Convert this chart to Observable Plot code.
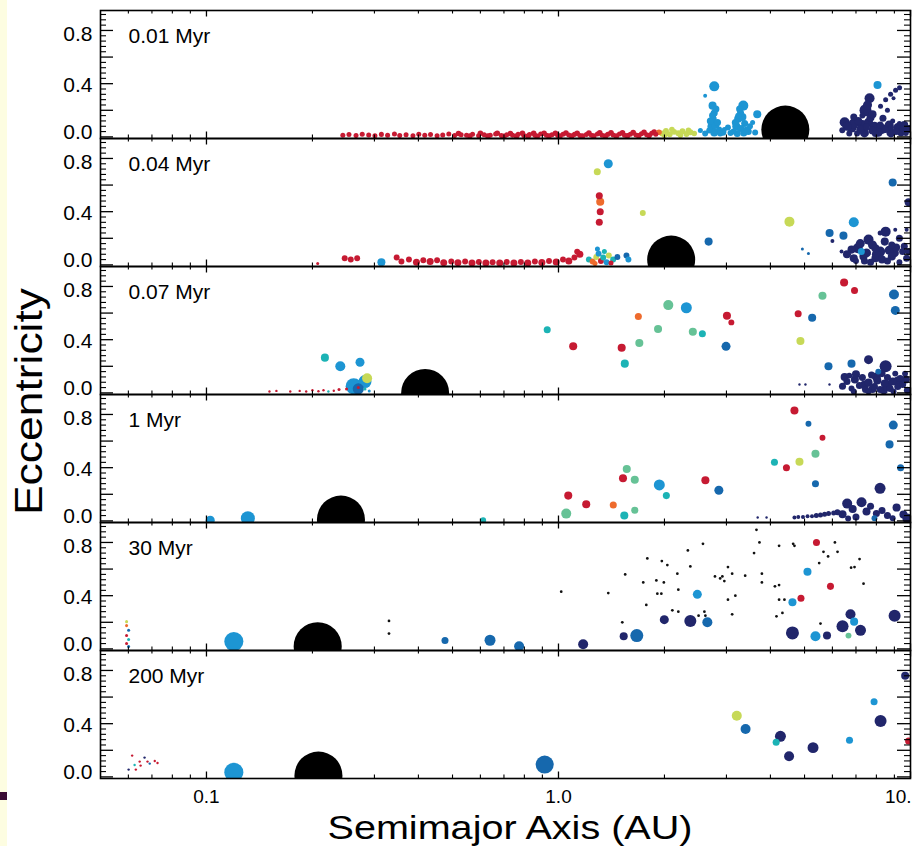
<!DOCTYPE html>
<html>
<head>
<meta charset="utf-8">
<script src="https://cdn.jsdelivr.net/npm/d3@7"></script>
<script src="https://cdn.jsdelivr.net/npm/@observablehq/plot@0.6"></script>
<style>
  html, body { margin: 0; padding: 0; background: #fff; }
  #page { position: relative; width: 918px; height: 846px; overflow: hidden; background: #fff;
          font-family: "Liberation Sans", Arial, Helvetica, sans-serif; }
  #page > #chart > svg { position: absolute; left: 0; top: 0; }
  #strip { position: absolute; left: 0; top: 0; width: 7px; height: 846px; background: #fdfde1; }
  #bar { position: absolute; left: 0; top: 792px; width: 7px; height: 8px; background: #3a0c33; }
  #titles { position: absolute; left: 0; top: 0; pointer-events: none; }
</style>
</head>
<body>
<div id="page">
  <div id="chart"></div>
  <div id="strip"></div>
  <div id="bar"></div>
  <svg id="titles" width="918" height="846" font-family="Liberation Sans, Arial, Helvetica, sans-serif">
    <text x="510" y="838.5" text-anchor="middle" font-size="34" textLength="365" lengthAdjust="spacingAndGlyphs">Semimajor Axis (AU)</text>
    <text transform="translate(42,401.5) rotate(-90)" text-anchor="middle" font-size="38" textLength="227" lengthAdjust="spacingAndGlyphs">Eccentricity</text>
  </svg>
</div>
<script>
// Snapshot times, top to bottom
const times = ["0.01 Myr", "0.04 Myr", "0.07 Myr", "1 Myr", "30 Myr", "200 Myr"];

// Bodies in each snapshot: [semimajor axis (AU), eccentricity, mass (Earth masses), log10 water mass fraction]
const snap001 = [
  [0.244,0.012,0.36,-5],[0.254,0.018,0.36,-5],[0.266,0.010,0.36,-5],[0.277,0.020,0.36,-5],[0.289,0.014,0.36,-5],
  [0.301,0.008,0.36,-5],[0.314,0.019,0.36,-5],[0.327,0.012,0.36,-5],[0.342,0.022,0.36,-5],[0.354,0.010,0.36,-5],
  [0.369,0.016,0.36,-5],[0.386,0.009,0.36,-5],[0.401,0.020,0.36,-5],[0.417,0.012,0.36,-5],[0.433,0.018,0.36,-5],
  [0.452,0.008,0.36,-5],[0.469,0.015,0.36,-5],[0.488,0.022,0.36,-5],[0.507,0.010,0.36,-5],[0.529,0.017,0.36,-5],
  [0.548,0.012,0.36,-5],[0.570,0.020,0.36,-5],[0.593,0.009,0.36,-5],[0.615,0.016,0.36,-5],[0.640,0.013,0.36,-5],
  [0.663,0.021,0.36,-5],[0.688,0.010,0.36,-5],[0.713,0.017,0.36,-5],[0.741,0.012,0.36,-5],[0.768,0.020,0.36,-5],
  [0.797,0.011,0.36,-5],[0.827,0.018,0.36,-5],[0.857,0.013,0.36,-5],[0.890,0.021,0.36,-5],[0.924,0.012,0.36,-5],
  [0.958,0.017,0.36,-5],[0.995,0.011,0.36,-5],[1.03,0.020,0.36,-5],[1.07,0.014,0.36,-5],[1.11,0.019,0.36,-5],
  [1.15,0.011,0.36,-5],[1.20,0.018,0.36,-5],[1.24,0.013,0.36,-5],[1.29,0.021,0.36,-5],[1.33,0.012,0.36,-5],
  [1.38,0.019,0.36,-5],[1.43,0.014,0.36,-5],[1.49,0.022,0.36,-5],[1.54,0.012,0.36,-5],[1.60,0.020,0.36,-5],
  [1.66,0.015,0.36,-5],[1.72,0.024,0.36,-5],[1.78,0.016,0.36,-5],[1.84,0.028,0.36,-5],[1.89,0.020,0.36,-5],
  [0.52,0.026,0.5,-5],[0.56,0.006,0.5,-5],[0.60,0.028,0.5,-5],[0.63,0.007,0.5,-5],[0.67,0.027,0.5,-5],
  [0.70,0.005,0.5,-5],[0.73,0.026,0.5,-5],[0.76,0.006,0.5,-5],[0.79,0.028,0.5,-5],[0.82,0.007,0.5,-5],
  [0.85,0.027,0.5,-5],[0.87,0.005,0.5,-5],[0.91,0.028,0.5,-5],[0.94,0.006,0.5,-5],[0.98,0.027,0.5,-5],
  [1.01,0.006,0.5,-5],[1.05,0.029,0.5,-5],[1.09,0.006,0.5,-5],[1.13,0.028,0.5,-5],[1.17,0.007,0.5,-5],
  [1.22,0.029,0.5,-5],[1.26,0.006,0.5,-5],[1.31,0.030,0.5,-5],[1.36,0.007,0.5,-5],[1.41,0.030,0.5,-5],
  [1.46,0.007,0.5,-5],[1.52,0.031,0.5,-5],[1.57,0.008,0.5,-5],[1.63,0.032,0.5,-5],[1.69,0.008,0.5,-5],
  [1.75,0.034,0.5,-5],[1.81,0.010,0.5,-5],[1.87,0.036,0.5,-5],
  [1.93,0.035,0.5,-4.5],
  [1.97,0.025,0.6,-4],[2.02,0.045,0.6,-4],[2.07,0.020,0.6,-4],[2.13,0.038,0.6,-4],[2.19,0.028,0.6,-4],
  [2.25,0.042,0.6,-4],[2.31,0.022,0.6,-4],[2.37,0.035,0.6,-4],[2.00,0.012,0.5,-4],[2.10,0.055,0.5,-4],
  [2.22,0.012,0.5,-4],[2.34,0.05,0.5,-4],[2.43,0.025,0.5,-4],
  [2.77,0.38,2.9,-2.5],[2.61,0.31,0.18,-2.5],
  [2.74,0.235,1.5,-2.5],[2.77,0.18,1.0,-2.5],[2.75,0.137,1.0,-2.5],[2.83,0.108,1.0,-2.5],[2.72,0.078,1.5,-2.5],
  [2.86,0.055,0.6,-2.5],[2.77,0.033,1.5,-2.5],[2.68,0.048,0.6,-2.5],[2.88,0.025,0.6,-2.5],[2.53,0.048,0.36,-2.5],
  [2.61,0.025,0.6,-2.5],[2.96,0.055,0.36,-2.5],[3.03,0.07,0.6,-2.5],
  [2.70,0.12,1.0,-2.5],[2.79,0.09,1.5,-2.5],[2.74,0.16,1.0,-2.5],[2.80,0.21,1.0,-2.5],[2.93,0.035,1.0,-2.5],
  [3.35,0.235,2.9,-2.5],[3.29,0.18,1.0,-2.5],[3.24,0.137,1.5,-2.5],[3.18,0.108,1.0,-2.5],[3.38,0.10,1.0,-2.5],
  [3.30,0.063,1.0,-2.5],[3.42,0.055,0.6,-2.5],[3.14,0.04,0.6,-2.5],[3.22,0.025,1.0,-2.5],[3.24,0.16,0.6,-2.5],
  [3.27,0.21,1.0,-2.5],[3.33,0.15,1.5,-2.5],[3.20,0.08,1.5,-2.5],[3.36,0.03,1.0,-2.5],[3.08,0.03,0.6,-2.5],
  [3.50,0.08,0.6,-2.5],[3.46,0.04,1.0,-2.5],
  [3.67,0.17,1.5,-2.5],[3.56,0.108,0.36,-2.5],[3.62,0.033,0.6,-2.5],
  [8.06,0.39,1.5,-2.5],[7.65,0.29,2.9,-1.5],[7.45,0.20,5,-1.5],[7.70,0.145,1.5,-1.5],[8.22,0.23,0.36,-1.5],
  [8.50,0.28,0.36,-1.5],[8.78,0.32,0.36,-1.5],[9.07,0.35,0.36,-1.5],[9.31,0.37,0.36,-1.5],[8.95,0.29,0.18,-1.5],
  [8.60,0.20,0.36,-1.5],[6.50,0.11,2.9,-1.5],[6.80,0.07,2.9,-1.5],[7.10,0.12,1.5,-1.5],[7.20,0.055,1.5,-1.5],
  [7.50,0.075,1.0,-1.5],[7.80,0.048,1.5,-1.5],[8.20,0.09,1.0,-1.5],[8.50,0.055,1.0,-1.5],[8.80,0.07,0.6,-1.5],
  [9.10,0.04,1.0,-1.5],[9.50,0.06,0.6,-1.5],[7.95,0.025,1.0,-1.5],[7.05,0.025,0.6,-1.5],[6.70,0.025,0.6,-1.5],
  [6.40,0.05,0.6,-1.5],[9.70,0.03,0.6,-1.5],[8.90,0.12,0.36,-1.5],[9.30,0.10,0.36,-1.5],[7.30,0.16,0.6,-1.5],
  [6.60,0.08,2.1,-1.5],[6.90,0.10,2.9,-1.5],[7.30,0.09,2.9,-1.5],[7.60,0.11,2.1,-1.5],[7.90,0.08,2.1,-1.5],
  [8.30,0.06,2.9,-1.5],[8.70,0.09,2.1,-1.5],[9.20,0.07,2.1,-1.5],[9.60,0.09,1.5,-1.5],[7.40,0.03,2.1,-1.5],
  [8.10,0.035,2.1,-1.5],[8.80,0.03,2.1,-1.5],[9.40,0.035,1.5,-1.5],[7.55,0.24,2.1,-1.5],[7.80,0.17,1.5,-1.5],
  [8.35,0.14,1.0,-1.5],[6.90,0.15,1.0,-1.5],[9.90,0.06,1.5,-1.5]
];

const snap004 = [
  [0.207,0.01,0.08,-5],[0.247,0.05,0.6,-5],[0.257,0.04,0.6,-5],[0.268,0.05,0.6,-5],[0.314,0.02,1.5,-2.5],
  [0.347,0.055,0.6,-5],[0.358,0.025,0.6,-5],[0.376,0.04,0.6,-5],[0.395,0.02,1.0,-5],[0.413,0.035,0.6,-5],
  [0.432,0.025,1.0,-5],[0.452,0.035,0.6,-5],[0.472,0.017,1.0,-5],[0.496,0.025,0.6,-5],[0.518,0.017,1.0,-5],
  [0.543,0.025,0.6,-5],[0.568,0.015,1.0,-5],[0.594,0.022,0.6,-5],[0.622,0.015,1.0,-5],[0.650,0.02,0.6,-5],
  [0.681,0.015,1.0,-5],[0.713,0.022,0.6,-5],[0.747,0.014,1.0,-5],[0.782,0.022,0.6,-5],[0.818,0.015,1.0,-5],
  [0.857,0.025,0.6,-5],[0.897,0.018,1.0,-5],[0.940,0.03,0.6,-5],[0.985,0.022,1.0,-5],[1.03,0.04,0.6,-5],
  [1.07,0.03,1.0,-5],[1.11,0.055,0.6,-5],[1.15,0.08,1.0,-5],[1.13,0.10,0.6,-5],
  [1.306,0.52,1.0,-5],[1.314,0.475,1.5,-4.5],[1.314,0.40,1.0,-5],[1.306,0.32,1.0,-5],[1.289,0.70,1.0,-4],
  [1.385,0.76,2.1,-2.5],[1.736,0.39,0.6,-4],
  [1.22,0.04,0.6,-3],[1.25,0.025,0.6,-4.5],[1.28,0.06,0.6,-4],[1.30,0.085,0.6,-2.5],[1.32,0.03,0.6,-5],
  [1.34,0.055,0.6,-3],[1.37,0.02,0.6,-2.5],[1.39,0.07,0.6,-4],[1.27,0.01,0.36,-4.5],[1.43,0.04,0.6,-3],
  [1.47,0.06,0.6,-2],[1.56,0.07,0.6,-2],[1.58,0.04,0.6,-2.5],[1.35,0.10,0.36,-3],[1.29,0.12,0.36,-2.5],
  [1.41,0.015,0.36,-5],
  [2.67,0.175,1.5,-2],[4.53,0.325,2.9,-4],[6.90,0.32,2.9,-2.5],[5.89,0.24,1.5,-2],[6.45,0.22,1.5,-2],
  [8.90,0.62,1.5,-2],[4.93,0.12,0.08,-2],[5.13,0.085,0.08,-2],[9.88,0.47,1.5,-1.5],
  [8.50,0.25,2.9,-1.5],[7.60,0.19,2.9,-1.5],[7.08,0.125,2.9,-1.5],[6.80,0.115,1.5,-1.5],[7.95,0.125,1.5,-1.5],
  [8.45,0.175,1.5,-1.5],[8.85,0.15,1.0,-1.5],[9.30,0.20,1.0,-1.5],[6.60,0.08,1.5,-1.5],[7.35,0.063,1.5,-1.5],
  [7.95,0.05,1.5,-1.5],[8.85,0.063,1.5,-1.5],[9.50,0.10,1.0,-1.5],[9.75,0.05,1.0,-1.5],[7.25,0.10,1.0,-2.5],
  [8.20,0.24,0.36,-1.5],[9.05,0.265,0.18,-1.5],[9.75,0.265,0.18,-1.5],[6.37,0.10,0.18,-1.5],[6.00,0.18,0.18,-1.5],
  [7.70,0.02,1.0,-1.5],[8.60,0.03,1.0,-1.5],[9.30,0.02,0.6,-1.5],[7.00,0.03,0.6,-1.5],
  [7.20,0.16,2.1,-1.5],[7.80,0.15,2.1,-1.5],[8.20,0.10,2.9,-1.5],[8.70,0.11,2.1,-1.5],[9.10,0.13,1.5,-1.5],
  [7.50,0.09,2.1,-1.5],[8.00,0.08,2.1,-1.5],[9.00,0.09,2.1,-1.5],[9.60,0.14,1.0,-1.5],[6.90,0.05,1.5,-1.5],
  [8.30,0.04,1.5,-1.5],[9.90,0.10,1.0,-1.5],[7.40,0.03,1.0,-1.5]
];

const snap007 = [
  [0.151,0.01,0.04,-5],[0.158,0.015,0.04,-5],[0.173,0.01,0.04,-5],[0.184,0.015,0.04,-5],[0.192,0.01,0.04,-5],
  [0.200,0.02,0.04,-5],[0.208,0.012,0.04,-5],[0.215,0.02,0.04,-5],[0.222,0.01,0.04,-3],[0.230,0.016,0.04,-5],
  [0.238,0.025,0.08,-5],[0.250,0.03,0.08,-5],[0.270,0.04,0.08,-5],[0.290,0.015,0.08,-2.5],[0.282,0.03,0.08,-3],
  [0.217,0.265,1.5,-3],[0.240,0.20,2.9,-2.5],[0.273,0.23,2.1,-2.5],
  [0.262,0.05,12,-2.5],[0.282,0.085,6.3,-2.5],[0.270,0.03,4,-2],[0.286,0.11,2.9,-4],
  [0.929,0.475,1.0,-3],[1.101,0.35,1.5,-5],[1.512,0.34,1.5,-5],[1.543,0.22,1.5,-3],[1.697,0.375,1.5,-3.5],
  [1.686,0.575,1.0,-4.5],[1.918,0.48,1.5,-3.5],[2.051,0.66,2.9,-3.5],[2.308,0.64,3.8,-2.5],[2.408,0.46,1.5,-3.5],
  [2.563,0.445,1.0,-3],[3.01,0.58,1.5,-5],[3.098,0.53,0.6,-5],[2.992,0.35,2.1,-2],[4.796,0.595,1.0,-5],
  [5.256,0.565,1.5,-2],[4.868,0.39,1.5,-4],[5.623,0.73,1.5,-3.5],[6.477,0.83,1.5,-5],[6.934,0.77,1.0,-5],
  [8.976,0.74,2.9,-2],[9.054,0.62,2.1,-2],[7.345,0.31,2.9,-1.75],[7.60,0.25,2.1,-1.5],[5.848,0.20,1.5,-2],
  [6.799,0.22,1.5,-2],[8.497,0.20,5,-1.5],
  [4.837,0.063,0.04,-1.5],[5.03,0.063,0.04,-1.5],[5.887,0.063,0.04,-1.5],
  [6.41,0.05,1.0,-1.5],[6.60,0.085,1.0,-1.5],[6.80,0.033,0.6,-1.5],[6.95,0.10,1.5,-1.5],[7.16,0.055,1.0,-1.5],
  [7.30,0.115,1.0,-1.5],[7.45,0.025,1.0,-1.5],[7.60,0.078,1.5,-1.5],[7.75,0.135,1.0,-1.5],[7.90,0.048,1.0,-1.5],
  [8.05,0.093,1.5,-1.5],[8.20,0.025,1.0,-1.5],[8.30,0.145,1.0,-1.5],[8.45,0.07,1.5,-1.5],[8.60,0.115,1.0,-1.5],
  [8.75,0.033,1.0,-1.5],[8.90,0.085,1.5,-1.5],[9.05,0.145,0.6,-1.5],[9.20,0.048,1.0,-1.5],[9.35,0.108,1.0,-1.5],
  [9.50,0.063,1.0,-1.5],[9.65,0.145,0.6,-1.5],[6.90,0.01,0.6,-1.5],[7.60,0.01,0.6,-1.5],[8.95,0.01,0.6,-1.5],
  [6.70,0.13,0.6,-1.5],[9.80,0.02,1.0,-1.5],[8.10,0.16,0.6,-2],
  [6.50,0.12,1.5,-1.5],[7.00,0.14,1.5,-1.5],[7.40,0.06,2.1,-1.5],[8.00,0.12,2.1,-1.5],[8.60,0.06,2.1,-1.5],
  [9.20,0.09,2.1,-1.5],[9.70,0.10,1.5,-1.5],[7.80,0.03,1.5,-1.5],[8.40,0.02,1.5,-1.5]
];

const snap1 = [
  [0.1025,0.005,2.1,-2.5],[0.1311,0.02,7.9,-2.5],
  [0.611,0.005,0.6,-3],[1.052,0.055,2.9,-3.5],[1.066,0.19,1.5,-5],[1.199,0.125,1.5,-5],[1.431,0.12,1.0,-4.5],
  [1.538,0.04,1.5,-3],[1.647,0.08,1.0,-3.5],[1.525,0.32,1.5,-5],[1.563,0.39,1.5,-3.5],[1.647,0.31,1.5,-3.5],
  [1.934,0.27,3.8,-2.5],[2.025,0.19,1.0,-3],[2.614,0.305,1.5,-5],[2.855,0.23,2.1,-2],[4.107,0.44,1.0,-3],
  [4.442,0.40,1.0,-5],[4.837,0.445,1.5,-4],[5.371,0.505,1.5,-3.5],[4.681,0.83,1.5,-5],[5.13,0.73,0.6,-2],
  [5.623,0.625,0.6,-5],[5.371,0.28,1.0,-2],[8.935,0.72,2.1,-2],[8.72,0.575,1.5,-2],[9.373,0.40,1.0,-2],
  [8.195,0.245,3.8,-1.5],
  [3.68,0.025,0.04,-1.5],[3.90,0.025,0.04,-1.5],[4.68,0.025,0.18,-1.5],[4.80,0.03,0.18,-1.5],[4.95,0.03,0.18,-1.5],
  [5.10,0.035,0.18,-1.5],[5.25,0.035,0.18,-1.5],[5.40,0.04,0.36,-1.5],[5.55,0.045,0.36,-1.5],[5.70,0.05,0.36,-1.5],
  [5.85,0.055,0.36,-1.5],[6.05,0.06,0.36,-1.5],[6.20,0.065,0.6,-1.5],
  [6.609,0.13,2.9,-1.5],[6.41,0.05,1.5,-1.5],[6.85,0.09,1.5,-1.5],[7.259,0.14,2.9,-1.5],[7.50,0.07,1.5,-1.5],
  [7.70,0.11,1.0,-1.5],[8.00,0.055,1.0,-1.5],[8.30,0.078,1.0,-1.5],[8.60,0.04,1.0,-1.5],[9.13,0.10,1.5,-1.5],
  [9.55,0.048,1.5,-1.5],[9.80,0.018,2.9,-1.5],[7.00,0.03,1.0,-1.5],[6.65,0.018,0.6,-1.5],[7.90,0.02,0.6,-2],
  [8.90,0.02,0.6,-1.5]
];

const snap30 = [
  [0.0593,0.205,0.08,-4],[0.0593,0.175,0.08,-4.5],[0.0601,0.14,0.08,-2],[0.0593,0.10,0.08,-5],
  [0.0601,0.07,0.08,-3],[0.0593,0.04,0.08,-5],[0.0601,0.018,0.08,-2],
  [0.1196,0.055,20,-2.5],
  [0.476,0.063,1.0,-2],[0.639,0.065,3.8,-2],[0.773,0.02,2.9,-2],[1.175,0.035,2.9,-1.5],[1.532,0.095,1.5,-1.5],
  [1.669,0.10,6.3,-2],[1.998,0.22,2.1,-1.5],[2.369,0.21,5,-1.5],[2.648,0.20,2.9,-2],[2.48,0.41,2.1,-2.5],
  [4.62,0.35,1.5,-2.5],[4.885,0.38,1.0,-5],[5.097,0.58,1.5,-2.5],[5.406,0.80,1.0,-5],[5.925,0.47,1.0,-5],
  [4.62,0.12,6.3,-1.5],[5.371,0.095,2.9,-2.5],[5.792,0.10,1.5,-1.5],[6.41,0.17,5,-1.5],[6.754,0.26,2.9,-1.5],
  [6.916,0.205,1.5,-2.5],[7.211,0.14,3.8,-1.5],[6.666,0.10,0.6,-3.5],[9.012,0.25,5,-1.5]
];

const snap200 = [
  [0.0601,0.055,0.04,-1.5],[0.0625,0.09,0.04,-3],[0.0646,0.115,0.04,-5],[0.0650,0.085,0.04,-5],
  [0.0667,0.145,0.04,-1.5],[0.0680,0.115,0.04,-5],[0.0690,0.10,0.04,-2],[0.0713,0.12,0.04,-5],
  [0.0630,0.055,0.04,-5],[0.0615,0.16,0.04,-5],[0.0726,0.105,0.04,-5],
  [0.1196,0.035,20,-2.5],[0.9137,0.093,17,-2],[3.21,0.46,2.9,-4],[3.40,0.36,2.9,-2],[4.271,0.305,3.8,-1.5],
  [4.153,0.26,1.0,-3],[4.519,0.155,2.9,-1.5],[5.286,0.22,3.8,-1.5],[6.71,0.275,1.0,-2.5],[7.88,0.565,1.0,-2.5],
  [8.222,0.42,5,-1.5],[9.658,0.76,1.5,-1.5],[9.876,0.27,1.0,-5]
];

const snapshots = [snap001, snap004, snap007, snap1, snap30, snap200];

// Small planetesimals at 30 Myr: [semimajor axis (AU), eccentricity]
const planetesimals30 = [
  [1.018,0.43],[1.385,0.42],[1.518,0.20],[1.547,0.56],[1.741,0.50],[1.788,0.68],[1.776,0.33],[1.897,0.515],
  [1.909,0.415],[1.960,0.415],[1.966,0.66],[2.038,0.63],[1.992,0.50],[2.106,0.29],[2.190,0.28],[2.176,0.565],
  [2.190,0.445],[2.331,0.74],[2.369,0.62],[2.573,0.79],[2.597,0.28],[2.614,0.25],[2.783,0.545],[2.879,0.53],
  [2.921,0.545],[2.959,0.51],[3.030,0.615],[3.114,0.565],[3.030,0.37],[3.180,0.40],[3.114,0.26],[3.391,0.55],
  [3.594,0.72],[3.651,0.895],[3.723,0.80],[3.783,0.565],[3.783,0.50],[4.120,0.47],[4.233,0.48],[4.233,0.775],
  [4.641,0.79],[4.681,0.775],[4.233,0.37],[4.384,0.37],[4.327,0.27],[4.161,0.245],[5.502,0.645],[5.550,0.19],
  [5.833,0.695],[5.660,0.73],[6.099,0.80],[6.204,0.73],[6.934,0.615],[7.165,0.675],[7.355,0.49],[6.780,0.61],
  [0.330,0.21],[0.330,0.115],[2.500,0.25]
];
const planetesimalMass = 0.06;

// Giant planet in each snapshot
const giantA = [4.41, 2.09, 0.418, 0.241, 0.207, 0.208];
const giantE = [0.055, 0.04, 0.0, 0.01, 0.02, 0.01];
const giantMass = 318;

// Water content colour key (dry red to water-rich navy)
const waterLevels = [-5, -4.5, -4, -3.5, -3, -2.5, -2, -1.5];
const waterColors = ["#c61a32", "#ee6b2d", "#c7d957", "#66c296", "#1cb3b5", "#1d95d3", "#1668ad", "#21266b"];

// Axis ticks
const xMajorTicks = [0.1, 1, 10];
const xMinorTicks = [0.06, 0.07, 0.08, 0.09, 0.2, 0.3, 0.4, 0.5, 0.6, 0.7, 0.8, 0.9, 2, 3, 4, 5, 6, 7, 8, 9];
const xTickLabels = ["0.1", "1.0", "10."];
const yMajorTicks = [0, 0.2, 0.4, 0.6, 0.8];
const yMinorTicks = [0.04, 0.08, 0.12, 0.16, 0.24, 0.28, 0.32, 0.36, 0.44, 0.48, 0.52, 0.56,
                     0.64, 0.68, 0.72, 0.76, 0.84, 0.88, 0.92];

// Layout
const W = 918, H = 846;
const margin = {left: 100, right: 8, top: 8, bottom: 67};
const frameW = W - margin.left - margin.right;
const panelH = (H - margin.top - margin.bottom) / times.length;

const bodies = snapshots.flatMap((rows, i) =>
  rows.map(([a, e, mass, water]) => ({time: times[i], a, e, mass, water})));
const smallBodies = planetesimals30.map(([a, e]) => ({time: "30 Myr", a, e, mass: planetesimalMass}));
const giants = times.map((time, i) => ({time, a: giantA[i], e: giantE[i], mass: giantMass}));

const font = "Liberation Sans, Arial, Helvetica, sans-serif";
const xLabel = (d) => xTickLabels[xMajorTicks.indexOf(d)];

const chart = Plot.plot({
  width: W,
  height: H,
  marginLeft: margin.left,
  marginRight: margin.right,
  marginTop: margin.top,
  marginBottom: margin.bottom,
  style: {background: "transparent", fontFamily: font, color: "black", overflow: "visible"},
  x: {type: "log", domain: [0.05, 10], axis: null},
  y: {domain: [-0.012, 0.95], axis: null},
  fy: {domain: times, padding: 0, axis: null},
  r: {type: "pow", exponent: 1 / 3, domain: [0, giantMass], range: [0, 24]},
  color: {domain: waterLevels, range: waterColors, interpolate: "rgb"},
  marks: [
    // bodies
    Plot.dot(smallBodies, {x: "a", y: "e", r: "mass", fy: "time", fill: "#111", clip: true}),
    Plot.dot(bodies, {x: "a", y: "e", r: "mass", fy: "time", fill: "water", clip: true}),
    Plot.dot(giants, {x: "a", y: "e", r: "mass", fy: "time", fill: "black", clip: true}),

    // inward ticks on all four sides of each panel
    Plot.tickY(yMajorTicks, {y: (d) => d, insetRight: frameW - 13, strokeWidth: 1.3}),
    Plot.tickY(yMajorTicks, {y: (d) => d, insetLeft: frameW - 13, strokeWidth: 1.3}),
    Plot.tickY(yMinorTicks, {y: (d) => d, insetRight: frameW - 6, strokeWidth: 1.1}),
    Plot.tickY(yMinorTicks, {y: (d) => d, insetLeft: frameW - 6, strokeWidth: 1.1}),
    Plot.tickX(xMajorTicks, {x: (d) => d, insetTop: panelH - 7, strokeWidth: 1.3}),
    Plot.tickX(xMajorTicks, {x: (d) => d, insetBottom: panelH - 7, strokeWidth: 1.3}),
    Plot.tickX(xMinorTicks, {x: (d) => d, insetTop: panelH - 4, strokeWidth: 1.1}),
    Plot.tickX(xMinorTicks, {x: (d) => d, insetBottom: panelH - 4, strokeWidth: 1.1}),

    Plot.frame({stroke: "black", strokeWidth: 1.6}),

    // tick labels
    Plot.axisY([0], {anchor: "left", tickSize: 0, tickPadding: 8, fontSize: 21, dy: -5, tickFormat: ".1f", label: null}),
    Plot.axisY([0.4], {anchor: "left", tickSize: 0, tickPadding: 8, fontSize: 21, dy: 2, tickFormat: ".1f", label: null}),
    Plot.axisY([0.8], {anchor: "left", tickSize: 0, tickPadding: 8, fontSize: 21, dy: 4, tickFormat: ".1f", label: null}),
    Plot.axisX([0.1, 1], {anchor: "bottom", tickSize: 0, tickPadding: 11, fontSize: 19, tickFormat: xLabel, label: null}),
    Plot.axisX([10], {anchor: "bottom", tickSize: 0, tickPadding: 11, fontSize: 19, textAnchor: "end", dx: 1, tickFormat: xLabel, label: null}),

    // snapshot labels
    Plot.text(times, {fy: (d) => d, text: (d) => d, frameAnchor: "top-left", dx: 28, dy: 18,
                      lineAnchor: "top", fontSize: 21})
  ]
});

document.getElementById("chart").appendChild(chart);
</script>
</body>
</html>
